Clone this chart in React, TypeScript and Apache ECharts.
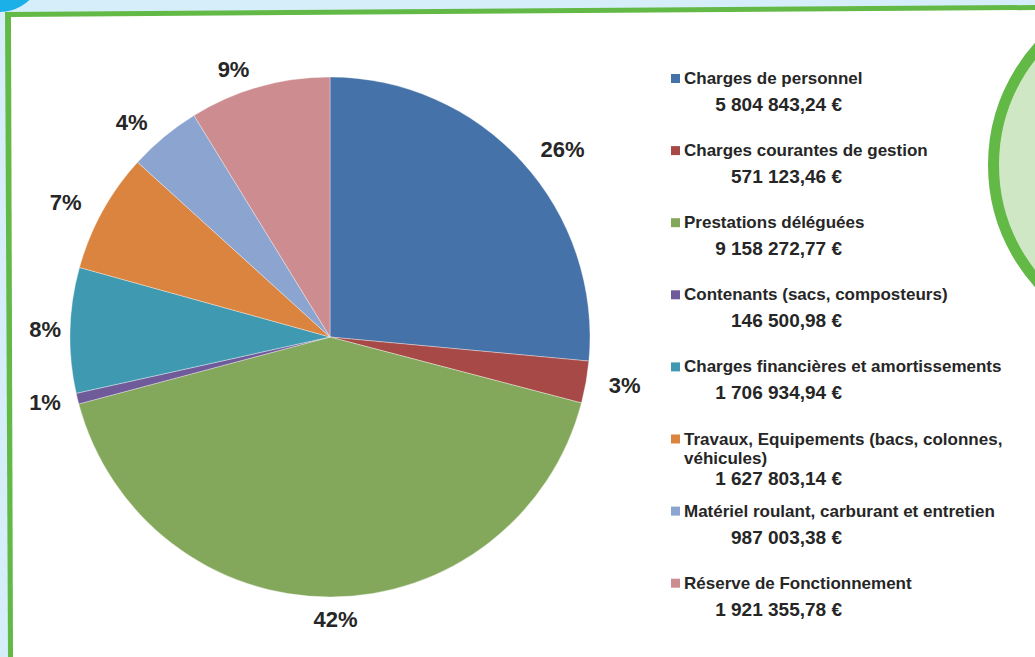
import { useEffect, useRef } from "react";
import * as echarts from "echarts";

const categories = [
  "Charges de personnel",
  "Charges courantes de gestion",
  "Prestations déléguées",
  "Contenants (sacs, composteurs)",
  "Charges financières et amortissements",
  "Travaux, Equipements (bacs, colonnes,\nvéhicules)",
  "Matériel roulant, carburant et entretien",
  "Réserve de Fonctionnement",
];
const amounts = [5804843.24, 571123.46, 9158272.77, 146500.98, 1706934.94, 1627803.14, 987003.38, 1921355.78];
const amountLabels = [
  "5 804 843,24 €",
  "571 123,46 €",
  "9 158 272,77 €",
  "146 500,98 €",
  "1 706 934,94 €",
  "1 627 803,14 €",
  "987 003,38 €",
  "1 921 355,78 €",
];
const colors = ["#4572A8", "#A74A47", "#84A85B", "#6F5A9A", "#3F9AB1", "#DB843F", "#8BA4D0", "#CD8C8F"];

const FONT = "'Liberation Sans', Arial, sans-serif";
const TEXT = "#262626";

export default function App() {
  const ref = useRef<HTMLDivElement>(null);
  useEffect(() => {
    if (!ref.current) return;
    const chart = echarts.init(ref.current, undefined, { renderer: "svg" });

    const legendEls: any[] = [];
    const baseY = 78.5;
    const step = 72.1;
    categories.forEach((name, i) => {
      const y = baseY + i * step;
      const lines = name.split("\n").length;
      legendEls.push({
        type: "rect",
        z: 10,
        shape: { x: 671, y: y - 4.5, width: 9, height: 9 },
        style: { fill: colors[i] },
      });
      legendEls.push({
        type: "text",
        z: 10,
        x: 684,
        y: y - 9.5,
        style: {
          text: name,
          font: `bold 17px ${FONT}`,
          fill: TEXT,
          lineHeight: 19,
          align: "left",
          verticalAlign: "top",
          textAlign: "left",
          textVerticalAlign: "top",
        },
      });
      legendEls.push({
        type: "text",
        z: 10,
        x: 842,
        y: y + 26 + (lines - 1) * 13,
        style: {
          text: amountLabels[i],
          font: `bold 19px ${FONT}`,
          fill: TEXT,
          align: "right",
          verticalAlign: "middle",
          textAlign: "right",
          textVerticalAlign: "middle",
        },
      });
    });

    const labelNudge: Record<number, { dx?: number; dy?: number; align?: string }> = {
      2: { align: "center", dy: 5 },
      3: { dx: 6 },
      4: { dx: 14 },
    };

    chart.setOption({
      animation: false,
      backgroundColor: "#d6eefa",
      graphic: {
        elements: [
          { type: "circle", z: -5, shape: { cx: 0, cy: -30, r: 42 }, style: { fill: "#1cb0e9" } },
          {
            type: "polygon",
            z: -5,
            shape: { points: [[5, 12], [1035, 5], [1035, 657], [8, 657]] },
            style: { fill: "#62b946" },
          },
          {
            type: "polygon",
            z: -4,
            shape: { points: [[11, 17], [1035, 10], [1035, 657], [13, 657]] },
            style: { fill: "#ffffff" },
          },
          {
            type: "circle",
            z: -3,
            shape: { cx: 1170, cy: 165, r: 176.5 },
            style: { fill: "#d0e7c5", stroke: "#62b946", lineWidth: 11 },
          },
          ...legendEls,
        ],
      },
      series: [
        {
          type: "pie",
          center: [330, 337],
          radius: 260,
          startAngle: 90,
          clockwise: true,
          percentPrecision: 0,
          avoidLabelOverlap: false,
          itemStyle: { borderColor: "rgba(255,255,255,0.6)", borderWidth: 0.6 },
          label: {
            show: true,
            position: "outside",
            formatter: "{d}%",
            fontFamily: FONT,
            fontWeight: "bold",
            fontSize: 22,
            color: TEXT,
          },
          labelLine: { show: false, length: 18, length2: 0 },
          labelLayout: (params: any) => labelNudge[params.dataIndex] || {},
          emphasis: { disabled: true },
          data: categories.map((name, i) => ({
            name,
            value: amounts[i],
            itemStyle: { color: colors[i] },
          })),
        },
      ],
    });
    return () => chart.dispose();
  }, []);
  return <div ref={ref} style={{ position: "fixed", left: 0, top: 0, width: 1035, height: 657 }} />;
}
